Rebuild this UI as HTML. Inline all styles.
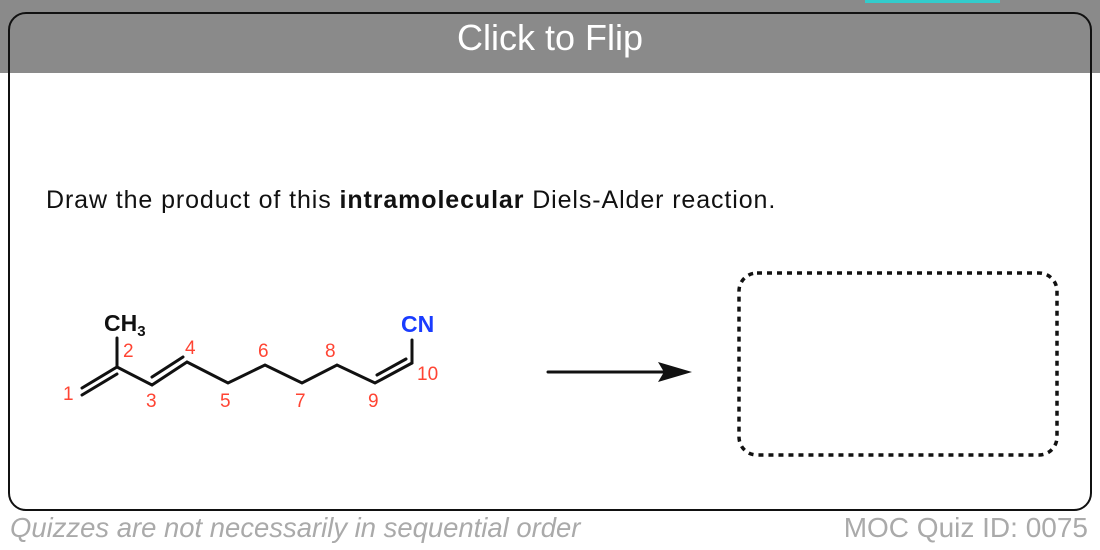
<!DOCTYPE html>
<html><head><meta charset="utf-8"><style>
body{margin:0;width:1100px;height:550px;background:#fff;position:relative;overflow:hidden;font-family:"Liberation Sans",sans-serif}
.band{position:absolute;left:0;top:0;width:1100px;height:73px;background:#8a8a8a}
.card{position:absolute;left:8px;top:12px;width:1080px;height:495px;border:2.5px solid #111;border-radius:18px}
.title{position:absolute;left:0;width:1100px;top:17px;text-align:center;color:#fff;font-size:36px}
.q{position:absolute;left:46px;top:186px;font-size:25px;color:#111;letter-spacing:0.9px;white-space:nowrap}
.foot{position:absolute;top:512px;font-size:28px;color:#aaa;white-space:nowrap}
</style></head><body>
<div class="band"></div>
<div style="position:absolute;left:865px;top:0;width:135px;height:3px;background:#3cc"></div>
<div class="card"></div>
<div class="title">Click to Flip</div>
<div class="q">Draw the product of this <b>intramolecular</b> Diels-Alder reaction.</div>
<svg width="1100" height="550" style="position:absolute;left:0;top:0" font-family="Liberation Sans, sans-serif">
<g stroke="#111" stroke-width="3" fill="none" stroke-linecap="round">
<polyline points="82,388 117,367 152,385 187,362 228,383 265,365 302,383 337,365 375,383 412,363"/>
<line x1="82" y1="395" x2="117" y2="374"/>
<line x1="152" y1="377" x2="183" y2="357"/>
<line x1="377" y1="375" x2="406" y2="359"/>
<line x1="117" y1="367" x2="117" y2="338"/>
<line x1="412" y1="363" x2="412" y2="340"/>
<line x1="548" y1="372" x2="672" y2="372"/>
</g>
<polygon points="692,372 658,362 664,372 658,382" fill="#111"/>
<rect x="739" y="273" width="318" height="182" rx="18" fill="none" stroke="#111" stroke-width="3.5" stroke-dasharray="5,5"/>
<text x="104" y="331" font-size="23" font-weight="bold" fill="#111">CH<tspan font-size="15" dy="5">3</tspan></text>
<text x="401" y="332" font-size="23" font-weight="bold" fill="#1a3cff">CN</text>
<g font-size="19" fill="#ff4433">
<text x="63" y="400">1</text><text x="123" y="357">2</text><text x="146" y="407">3</text>
<text x="185" y="354">4</text><text x="220" y="407">5</text><text x="258" y="357">6</text>
<text x="295" y="407">7</text><text x="325" y="357">8</text><text x="368" y="407">9</text>
<text x="417" y="380">10</text>
</g>
</svg>
<div class="foot" style="left:10px;font-style:italic;transform:scaleX(0.98);transform-origin:left">Quizzes are not necessarily in sequential order</div>
<div class="foot" style="right:12px">MOC Quiz ID: 0075</div>
</body></html>
